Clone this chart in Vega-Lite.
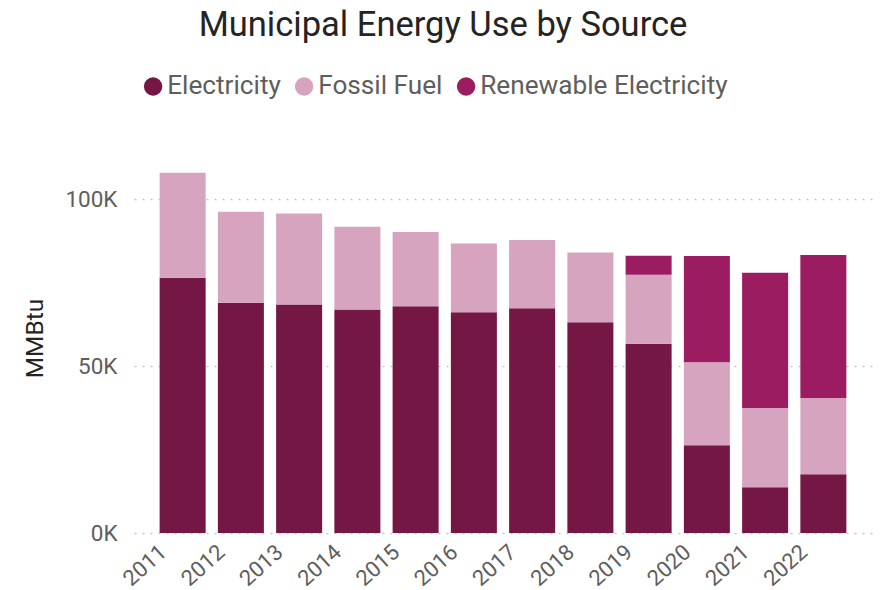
{"$schema":"https://vega.github.io/schema/vega-lite/v6.json","width":738,"height":367,"autosize":"none","padding":{"left":134,"right":9,"top":166,"bottom":57},"background":"white","data":{"values":[
{"y":"2011","s":"Electricity","v":76500},{"y":"2011","s":"Fossil Fuel","v":31500},{"y":"2012","s":"Electricity","v":69000},{"y":"2012","s":"Fossil Fuel","v":27300},{"y":"2013","s":"Electricity","v":68500},{"y":"2013","s":"Fossil Fuel","v":27300},{"y":"2014","s":"Electricity","v":67000},{"y":"2014","s":"Fossil Fuel","v":24800},{"y":"2015","s":"Electricity","v":68000},{"y":"2015","s":"Fossil Fuel","v":22200},{"y":"2016","s":"Electricity","v":66200},{"y":"2016","s":"Fossil Fuel","v":20600},{"y":"2017","s":"Electricity","v":67400},{"y":"2017","s":"Fossil Fuel","v":20400},{"y":"2018","s":"Electricity","v":63200},{"y":"2018","s":"Fossil Fuel","v":20900},{"y":"2019","s":"Electricity","v":56700},{"y":"2019","s":"Fossil Fuel","v":20700},{"y":"2019","s":"Renewable Electricity","v":5700},{"y":"2020","s":"Electricity","v":26300},{"y":"2020","s":"Fossil Fuel","v":24900},{"y":"2020","s":"Renewable Electricity","v":31800},{"y":"2021","s":"Electricity","v":13700},{"y":"2021","s":"Fossil Fuel","v":23800},{"y":"2021","s":"Renewable Electricity","v":40500},{"y":"2022","s":"Electricity","v":17600},{"y":"2022","s":"Fossil Fuel","v":22900},{"y":"2022","s":"Renewable Electricity","v":42800}
]},"title":{"text":"Municipal Energy Use by Source","font":"Roboto","fontSize":34.5,"fontWeight":400,"color":"#252423","anchor":"middle","frame":"group","dx":-60,"offset":30},"mark":{"type":"bar"},"encoding":{"x":{"field":"y","type":"ordinal","title":null,"scale":{"paddingInner":0.21,"paddingOuter":0.44},"axis":{"labelAngle":-42,"labelAlign":"right","labelBaseline":"top","labelFont":"Roboto","labelFontSize":22,"labelColor":"#605E5C","ticks":false,"domain":false,"grid":false,"labelPadding":8,"labelOffset":-26}},"y":{"field":"v","type":"quantitative","title":"MMBtu","stack":"zero","scale":{"domain":[0,110000],"nice":false},"axis":{"values":[0,50000,100000],"labelExpr":"(datum.value/1000)+'K'","labelFont":"Roboto","labelFontSize":22.5,"labelColor":"#605E5C","titleFont":"Roboto","titleFontSize":24.5,"titleFontWeight":400,"titleColor":"#252423","titlePadding":17,"titleY":172,"ticks":false,"domain":false,"grid":true,"gridDash":[2,6],"gridColor":"#C8C6C4","gridWidth":1.5,"labelPadding":17}},"color":{"field":"s","type":"nominal","scale":{"domain":["Electricity","Fossil Fuel","Renewable Electricity"],"range":["#741745","#D7A4C0","#9C1C62"]},"legend":{"orient":"none","legendX":6,"legendY":-93,"direction":"horizontal","title":null,"symbolType":"circle","symbolSize":340,"labelFont":"Roboto","labelFontSize":26.2,"labelColor":"#605E5C","labelLimit":400,"labelOffset":1,"columnPadding":10,"symbolOpacity":1}},"order":{"field":"s"}},"config":{"view":{"stroke":null},"bar":{"stroke":null}}}
